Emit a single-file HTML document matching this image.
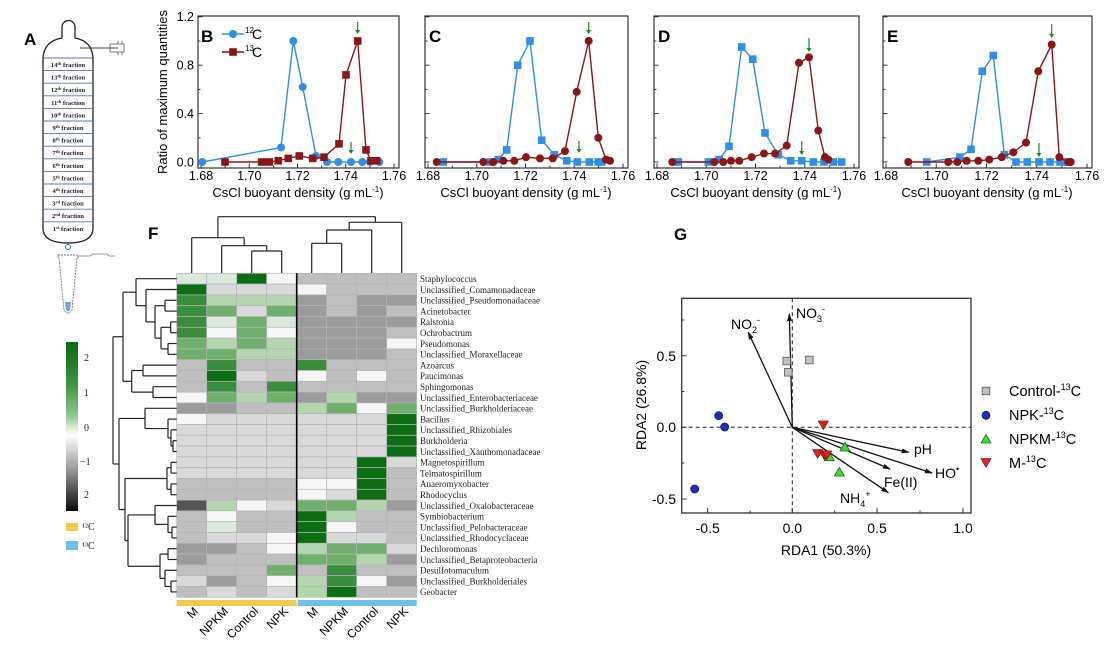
<!DOCTYPE html>
<html><head><meta charset="utf-8"><style>
html,body{margin:0;padding:0;background:#fff;}
svg{display:block;font-family:"Liberation Sans",Arial,sans-serif;}
.ser{font-family:"Liberation Serif",serif;}
</style></head><body>
<svg id="s" width="1107" height="647" viewBox="0 0 1107 647" xmlns="http://www.w3.org/2000/svg">
<rect width="1107" height="647" fill="#fff"/>
<g id="shapes"></g>
<!-- Panel A -->
<text x="24" y="45" font-size="17" font-weight="bold">A</text>
<g class="ser" font-size="6.5" font-weight="bold" text-anchor="middle" fill="#222">
<text x="68" y="67">14<tspan font-size="4.5" dy="-2">th</tspan><tspan dy="2"> fraction</tspan></text>
<text x="68" y="79.6">13<tspan font-size="4.5" dy="-2">th</tspan><tspan dy="2"> fraction</tspan></text>
<text x="68" y="92.2">12<tspan font-size="4.5" dy="-2">th</tspan><tspan dy="2"> fraction</tspan></text>
<text x="68" y="104.8">11<tspan font-size="4.5" dy="-2">th</tspan><tspan dy="2"> fraction</tspan></text>
<text x="68" y="117.4">10<tspan font-size="4.5" dy="-2">th</tspan><tspan dy="2"> fraction</tspan></text>
<text x="68" y="130">9<tspan font-size="4.5" dy="-2">th</tspan><tspan dy="2"> fraction</tspan></text>
<text x="68" y="142.6">8<tspan font-size="4.5" dy="-2">th</tspan><tspan dy="2"> fraction</tspan></text>
<text x="68" y="155.2">7<tspan font-size="4.5" dy="-2">th</tspan><tspan dy="2"> fraction</tspan></text>
<text x="68" y="167.8">6<tspan font-size="4.5" dy="-2">th</tspan><tspan dy="2"> fraction</tspan></text>
<text x="68" y="180.4">5<tspan font-size="4.5" dy="-2">th</tspan><tspan dy="2"> fraction</tspan></text>
<text x="68" y="193">4<tspan font-size="4.5" dy="-2">th</tspan><tspan dy="2"> fraction</tspan></text>
<text x="68" y="205.6">3<tspan font-size="4.5" dy="-2">rd</tspan><tspan dy="2"> fraction</tspan></text>
<text x="68" y="218.2">2<tspan font-size="4.5" dy="-2">nd</tspan><tspan dy="2"> fraction</tspan></text>
<text x="68" y="230.8">1<tspan font-size="4.5" dy="-2">st</tspan><tspan dy="2"> fraction</tspan></text>
</g>
<!-- Panel B-E text -->
<g font-size="17" font-weight="bold">
<text x="201" y="42">B</text><text x="429" y="42">C</text><text x="658" y="42">D</text><text x="887" y="42">E</text>
</g>
<g font-size="12.5" text-anchor="end">
<text x="194" y="166.5">0.0</text><text x="194" y="118">0.4</text><text x="194" y="69.5">0.8</text><text x="194" y="21">1.2</text>
</g>
<text transform="translate(167,92) rotate(-90)" font-size="13" text-anchor="middle">Ratio of maximum quantities</text>
<g font-size="14"><text x="252" y="39">C</text><text x="252" y="57">C</text></g>
<g font-size="8"><text x="245" y="33">12</text><text x="245" y="51">13</text></g>
<g id="xlabs" font-size="12.5" text-anchor="middle"></g>
<g font-size="13" text-anchor="middle">
<text x="298" y="197">CsCl buoyant density (g mL<tspan font-size="8" dy="-5">-1</tspan><tspan dy="5">)</tspan></text>
<text x="526" y="197">CsCl buoyant density (g mL<tspan font-size="8" dy="-5">-1</tspan><tspan dy="5">)</tspan></text>
<text x="756" y="197">CsCl buoyant density (g mL<tspan font-size="8" dy="-5">-1</tspan><tspan dy="5">)</tspan></text>
<text x="987" y="197">CsCl buoyant density (g mL<tspan font-size="8" dy="-5">-1</tspan><tspan dy="5">)</tspan></text>
</g>
<!-- Panel F -->
<text x="148" y="239" font-size="17" font-weight="bold">F</text>
<g class="ser" font-size="10" fill="#222">
<text x="84" y="361">2</text><text x="84" y="396">1</text><text x="84" y="431">0</text><text x="80" y="465">−1</text><text x="84" y="498">2</text>
<text x="82" y="530">¹²C</text><text x="82" y="549">¹³C</text>
</g>
<g class="ser" font-size="9" fill="#222" id="rowlabs">
<text x="420" y="282">Staphylococcus</text>
<text x="420" y="292.8">Unclassified_Comamonadaceae</text>
<text x="420" y="303.6">Unclassified_Pseudomonadaceae</text>
<text x="420" y="314.4">Acinetobacter</text>
<text x="420" y="325.2">Ralstonia</text>
<text x="420" y="336">Ochrobactrum</text>
<text x="420" y="346.8">Pseudomonas</text>
<text x="420" y="357.6">Unclassified_Moraxellaceae</text>
<text x="420" y="368.4">Azoarcus</text>
<text x="420" y="379.2">Paucimonas</text>
<text x="420" y="390">Sphingomonas</text>
<text x="420" y="400.8">Unclassified_Enterobacteriaceae</text>
<text x="420" y="411.6">Unclassified_Burkholderiaceae</text>
<text x="420" y="422.4">Bacillus</text>
<text x="420" y="433.2">Unclassified_Rhizobiales</text>
<text x="420" y="444">Burkholderia</text>
<text x="420" y="454.8">Unclassified_Xanthomonadaceae</text>
<text x="420" y="465.6">Magnetospirillum</text>
<text x="420" y="476.4">Telmatospirillum</text>
<text x="420" y="487.2">Anaeromyxobacter</text>
<text x="420" y="498">Rhodocyclus</text>
<text x="420" y="508.8">Unclassified_Oxalobacteraceae</text>
<text x="420" y="519.6">Symbiobacterium</text>
<text x="420" y="530.4">Unclassified_Pelobacteraceae</text>
<text x="420" y="541.2">Unclassified_Rhodocyclaceae</text>
<text x="420" y="552">Dechloromonas</text>
<text x="420" y="562.8">Unclassified_Betaproteobacteria</text>
<text x="420" y="573.6">Desulfotomaculum</text>
<text x="420" y="584.4">Unclassified_Burkholderiales</text>
<text x="420" y="595.2">Geobacter</text>
</g>
<g font-size="12" text-anchor="end">
<text transform="translate(199,612) rotate(-45)">M</text>
<text transform="translate(229,612) rotate(-45)">NPKM</text>
<text transform="translate(259,612) rotate(-45)">Control</text>
<text transform="translate(289,612) rotate(-45)">NPK</text>
<text transform="translate(319,612) rotate(-45)">M</text>
<text transform="translate(349,612) rotate(-45)">NPKM</text>
<text transform="translate(379,612) rotate(-45)">Control</text>
<text transform="translate(409,612) rotate(-45)">NPK</text>
</g>
<!-- Panel G -->
<text x="674" y="240" font-size="17" font-weight="bold">G</text>
<g font-size="14" text-anchor="middle">
<text x="707.7" y="533">-0.5</text><text x="792.3" y="533">0.0</text><text x="877" y="533">0.5</text><text x="963" y="533">1.0</text>
<text x="826" y="555">RDA1 (50.3%)</text>
</g>
<g font-size="14" text-anchor="end">
<text x="676" y="361">0.5</text><text x="676" y="432">0.0</text><text x="676" y="504">-0.5</text>
</g>
<text transform="translate(646,405) rotate(-90)" font-size="14" text-anchor="middle">RDA2 (26.8%)</text>
<g font-size="14">
<text x="731" y="329">NO<tspan font-size="9" dy="4">2</tspan><tspan font-size="9" dy="-10">-</tspan></text>
<text x="796" y="318">NO<tspan font-size="9" dy="4">3</tspan><tspan font-size="9" dy="-10">-</tspan></text>
<text x="914" y="454">pH</text>
<text x="935" y="478">HO<tspan font-size="9" dy="-6">•</tspan></text>
<text x="884" y="487">Fe(II)</text>
<text x="840" y="503">NH<tspan font-size="9" dy="4">4</tspan><tspan font-size="9" dy="-10">+</tspan></text>
</g>
<g font-size="14.5">
<text x="1009" y="396">Control-<tspan font-size="9" dy="-6">13</tspan><tspan dy="6">C</tspan></text>
<text x="1009" y="420">NPK-<tspan font-size="9" dy="-6">13</tspan><tspan dy="6">C</tspan></text>
<text x="1009" y="444">NPKM-<tspan font-size="9" dy="-6">13</tspan><tspan dy="6">C</tspan></text>
<text x="1009" y="468">M-<tspan font-size="9" dy="-6">13</tspan><tspan dy="6">C</tspan></text>
</g>
</svg>
<script>
(function(){
var NS="http://www.w3.org/2000/svg",G=document.getElementById("shapes");
function el(t,a,p){var e=document.createElementNS(NS,t);for(var k in a)e.setAttribute(k,a[k]);(p||G).appendChild(e);return e;}
function line(x1,y1,x2,y2,c,w,extra){var a={x1:x1,y1:y1,x2:x2,y2:y2,stroke:c||"#222","stroke-width":w||1.2};if(extra)for(var k in extra)a[k]=extra[k];return el("line",a);}
// ---- Panel A tube
el("defs",{}).innerHTML='<marker id="ah" markerWidth="8" markerHeight="8" refX="7" refY="4" orient="auto" markerUnits="userSpaceOnUse"><path d="M0,1.5 L8,4 L0,6.5 Z" fill="#111"/></marker><linearGradient id="cb" x1="0" y1="0" x2="0" y2="1"><stop offset="0" stop-color="#0a6a12"/><stop offset="0.25" stop-color="#3f9443"/><stop offset="0.43" stop-color="#8cc48c"/><stop offset="0.55" stop-color="#ffffff"/><stop offset="0.75" stop-color="#9a9a9a"/><stop offset="1" stop-color="#0a0a0a"/></linearGradient>';
el("path",{d:"M43,58 Q44,41 62,38 L62,27 A6.5,6.5 0 0 1 75,27 L75,38 Q92,41 93,58 L93,228 Q93,243 68,243 Q43,243 43,228 Z",fill:"#fff",stroke:"#222","stroke-width":1.3});
for(var i=0;i<=13;i++){line(43,58+i*12.6,93,58+i*12.6,"#5577aa",0.9);}
line(80,48,118,48,"#444",1);
el("path",{d:"M110,44 h14 v8 h-14 z M118,44 v-3 M122,44 v-3 M118,52 v3 M122,52 v3",fill:"none",stroke:"#555","stroke-width":0.8});
el("circle",{cx:68,cy:247,r:2.5,fill:"none",stroke:"#3a6fb0","stroke-width":1});
el("path",{d:"M58,255 h20 v3 h-1 L72,310 Q68,316 64,310 L59,258 h-1 z",fill:"#fff",stroke:"#777","stroke-width":0.9,"stroke-dasharray":"2,1"});
el("path",{d:"M78,256 h12 l3,-2 h14 l2,2 h6",fill:"none",stroke:"#777","stroke-width":0.8});
el("path",{d:"M65,302 L71,302 L70,310 Q68,313 66,310 Z",fill:"#6aa8e0"});
// ---- Panels B-E frames
var P=[[198,399],[425,628],[654,859],[883,1092]];
function Y(v){return 162-v*121;}
var xl=document.getElementById("xlabs");
P.forEach(function(p,pi){
  var L=p[0],R=p[1];
  el("rect",{x:L,y:16,width:R-L,height:152,fill:"none",stroke:"#333","stroke-width":1.2});
  for(var k=0;k<=6;k++){var yy=Y(k*0.2);line(L,yy,L+(k%2?2.5:4.5),yy,"#333",1);}
  var x0=L+3,x1=R-5;
  for(var k=0;k<=8;k++){var xx=x0+(x1-x0)*k/8;line(xx,168,xx,168-(k%2?2.5:4.5),"#333",1);
    if(k%2==0){var t=el("text",{x:xx,y:180},xl);t.textContent=(1.68+k*0.01).toFixed(2);}}
});
var BL="#2e8ee8",RD="#8a1616";
function series(xs,vs,col,shape){
  var pts=xs.map(function(x,i){return x+","+Y(vs[i]);}).join(" ");
  el("polyline",{points:pts,fill:"none",stroke:col,"stroke-width":1.4});
  xs.forEach(function(x,i){var y=Y(vs[i]);
    if(shape=="c")el("circle",{cx:x,cy:y,r:4,fill:col});
    else el("rect",{x:x-3.8,y:y-3.8,width:7.6,height:7.6,fill:col});});
}
function arrow(x,y1,y2){line(x,y1,x,y2-3,"#1a8a1a",1.2);el("path",{d:"M"+(x-2.5)+","+(y2-4)+" L"+(x+2.5)+","+(y2-4)+" L"+x+","+y2+" Z",fill:"#1a8a1a"});}
// B
series([202.3,281,293.3,302.7,316,327,338.3,351,362.3,370,379.3],[0,.12,1,.62,.05,0,0,0,0,0,0],BL,"c");
series([225,261.7,269.3,278.3,288.3,299.3,312.7,324,339,346,357.7,366,371,376.7],[0,0,0,.01,.03,.05,.03,.04,.15,.72,1,.1,.01,.01],RD,"s");
arrow(357.7,22,34);arrow(351,142,154);
line(222,34,244,34,BL,1.4);el("circle",{cx:233,cy:34,r:4,fill:BL});
line(222,52,244,52,RD,1.4);el("rect",{x:229.2,y:48.2,width:7.6,height:7.6,fill:RD});
// C
series([443.3,490,498.3,506.7,517.7,530,541.7,554.3,566.7,577.3,589.3,598.3,601.7],[0,0,.02,.1,.8,1,.18,.06,.01,0,0,0,0],BL,"s");
series([436.7,483.3,493.3,503.3,514.3,526,540,552.7,565,576.7,588.7,598.3,606,610],[0,0,0,.01,.01,.04,.03,.03,.09,.58,1,.2,.02,.01],RD,"c");
arrow(588.7,22,34);arrow(579,141,153);
// D
series([678.3,708.3,719,729,741.7,752.7,765,778.3,790.7,801.7,813.3,824,833.3,841.7],[0,0,.02,.13,.95,.85,.24,.06,.01,.01,0,0,0,0],BL,"s");
series([672.3,714.3,723.3,731,739.3,751.7,764,775,786.7,799,809,818.3,825,828.3],[0,0,0,.01,.01,.04,.07,.07,.135,.82,.865,.26,.04,.02],RD,"c");
arrow(809,38,52);arrow(801.7,141,155);
// E
series([926.7,960,971,982.3,993.3,1004.3,1016,1027.3,1039,1050,1060,1066.7],[0,.04,.105,.75,.88,.06,0,0,0,0,0,0],BL,"s");
series([908.3,948.3,957.3,966.7,978.3,989.3,1001.7,1013.3,1026,1038.3,1051.7,1059.3,1068.3,1070.7],[0,0,0,.01,.01,.02,.04,.08,.16,.75,.97,.04,0,0],RD,"c");
arrow(1051.7,24,38);arrow(1039,143,157);
// ---- Heatmap
var C={G3:"#0b6e12",G2:"#3a8d3c",G1:"#6fb06c",G0:"#b3d6ae",Gl:"#d9eadb",W:"#f6f6f6",L:"#d9d9d9",M:"#bfbfbf",D:"#9c9c9c",K:"#555555"};
var H=[
"Gl Gl G3 W M M M M","G3 L L L W M M M","G2 G0 G0 G0 D M D D","G2 G1 L G1 D M D M","G2 Gl G1 Gl D D D D",
"G2 W G1 W D D D M","G1 G0 G1 G0 D D D W","G1 G1 G0 G0 D D D M","M G2 M M G2 M M M","M G3 L M W M W M",
"M G2 M G2 M M M M","W G1 G0 G1 D G0 D D","D D M M G0 G1 W G1","W L L L L L L G3","L L L L L L L G3",
"L L L L L L L G3","L L L L L L L G3","L L L L L L G3 L","L L L L L L G3 M","M M M M W W G3 M",
"M M M M W L G3 M","K G0 W L G1 G1 G0 D","M W M M G3 G0 M M","M Gl M M G3 W M M","M L L W G3 L L M",
"D D M W G0 G1 G1 L","D M M M G1 G1 G0 D","M M M G1 M G2 M M","L D M W G0 G2 W D","M L M L G0 G3 M M"];
var cx=[176.7,206.7,236.7,266.7,296.7,326.7,356.7,386.7],cw=30,ry0=273.3,rh=10.8;
H.forEach(function(r,i){r.split(" ").forEach(function(c,j){
  el("rect",{x:cx[j],y:ry0+i*rh,width:cw,height:rh,fill:C[c],stroke:"#b5b5b5","stroke-width":0.7});});});
line(296.7,273,296.7,597.3,"#000",1.6);
el("rect",{x:176.7,y:600,width:120,height:6,fill:"#f2c94c"});
el("rect",{x:297.7,y:600,width:119,height:6,fill:"#6cc0ea"});
// colorbar
el("rect",{x:66,y:342,width:12,height:169,fill:"url(#cb)"});
el("rect",{x:66,y:523,width:12,height:8,fill:"#f2c94c"});
el("rect",{x:66,y:541,width:12,height:9,fill:"#6cc0ea"});
// column dendrogram
function cl(x1,x2,y,b1,b2){line(x1,b1,x1,y);line(x2,b2,x2,y);line(x1,y,x2,y);}
var ct=273;
cl(251.7,281.7,251,ct,ct);cl(221.7,266.7,245.7,ct,251);cl(191.7,244.2,237.7,ct,245.7);
cl(311.7,341.7,243.3,ct,ct);cl(326.7,371.7,230,243.3,ct);cl(349.2,401.7,222.3,230,ct);
cl(217.9,375.4,216.7,237.7,222.3);
// row dendrogram
function ry(i){return ry0+(i-0.5)*rh;}
function leaf(i){return {y:ry(i),x:176.7};}
function J(a,b,x){if(typeof a=="number")a=leaf(a);if(typeof b=="number")b=leaf(b);
  line(a.x,a.y,x,a.y);line(b.x,b.y,x,b.y);line(x,a.y,x,b.y);return {x:x,y:(a.y+b.y)/2};}
var A34=J(3,4,165),B56=J(5,6,170.7),B78=J(7,8,168),B58=J(B56,B78,161),C38=J(A34,B58,155),C28=J(2,C38,146),C18=J(1,C28,136);
var D910=J(9,10,143),D1112=J(11,12,153),D912=J(D910,D1112,131.7),E112=J(C18,D912,123);
var F1417=J(14,J(15,J(16,17,173),171),168),F1317=J(13,F1417,145);
var G1821=J(J(18,19,171),J(20,21,171),167);
var H2225=J(22,J(23,J(24,25,172),168),155);
var H2630=J(J(26,27,168),J(28,J(29,30,171),165),160);
var H2230=J(H2225,H2630,128),I1830=J(G1821,H2230,125),J1330=J(F1317,I1830,119);
J(E112,J1330,113);
// ---- Panel G
el("rect",{x:681.7,y:298.3,width:289.3,height:214.7,fill:"none",stroke:"#333","stroke-width":1.3});
var ox=792.3,oy=427.3;
line(681.7,oy,971,oy,"#222",1,{"stroke-dasharray":"4,3"});
line(ox,298.3,ox,513,"#222",1,{"stroke-dasharray":"4,3"});
[707.7,792.3,877,963].forEach(function(x){line(x,513,x,508,"#333",1);});
[750,834.6,920].forEach(function(x){line(x,513,x,510.5,"#333",1);});
[355.7,427.3,499].forEach(function(y){line(681.7,y,686.7,y,"#333",1);});
[320,391.5,463].forEach(function(y){line(681.7,y,684.2,y,"#333",1);});
[[748.3,332.3],[789.3,314],[908.7,452.3],[932,473],[890,469],[888.3,492.7]].forEach(function(p){
  line(ox,oy,p[0],p[1],"#111",1.3,{"marker-end":"url(#ah)"});});
function sq(x,y,c){el("rect",{x:x-3.8,y:y-3.8,width:7.6,height:7.6,fill:c,stroke:"#555","stroke-width":0.8});}
function ci(x,y){el("circle",{cx:x,cy:y,r:4,fill:"#1a2fb8",stroke:"#0a1a70","stroke-width":0.8});}
function tu(x,y){el("path",{d:"M"+x+","+(y-4.5)+" L"+(x+5)+","+(y+4)+" L"+(x-5)+","+(y+4)+" Z",fill:"#3ddc3d",stroke:"#1a6a1a","stroke-width":0.8});}
function td(x,y){el("path",{d:"M"+x+","+(y+4.5)+" L"+(x+5)+","+(y-4)+" L"+(x-5)+","+(y-4)+" Z",fill:"#e02424",stroke:"#801010","stroke-width":0.8});}
sq(786.7,361,"#c0c0c0");sq(788.3,372.3,"#c0c0c0");sq(809.3,360,"#c0c0c0");
ci(718.7,415.7);ci(724.7,427);ci(694.7,489);
tu(845,447);tu(829.3,456.7);tu(839.3,472);
td(823.3,425);td(817.7,453.7);td(824.3,455);td(826.7,455);
sq(986,391,"#c0c0c0");ci(986,415.3);tu(986,439);td(986,462.7);
})();
</script>
</body></html>
